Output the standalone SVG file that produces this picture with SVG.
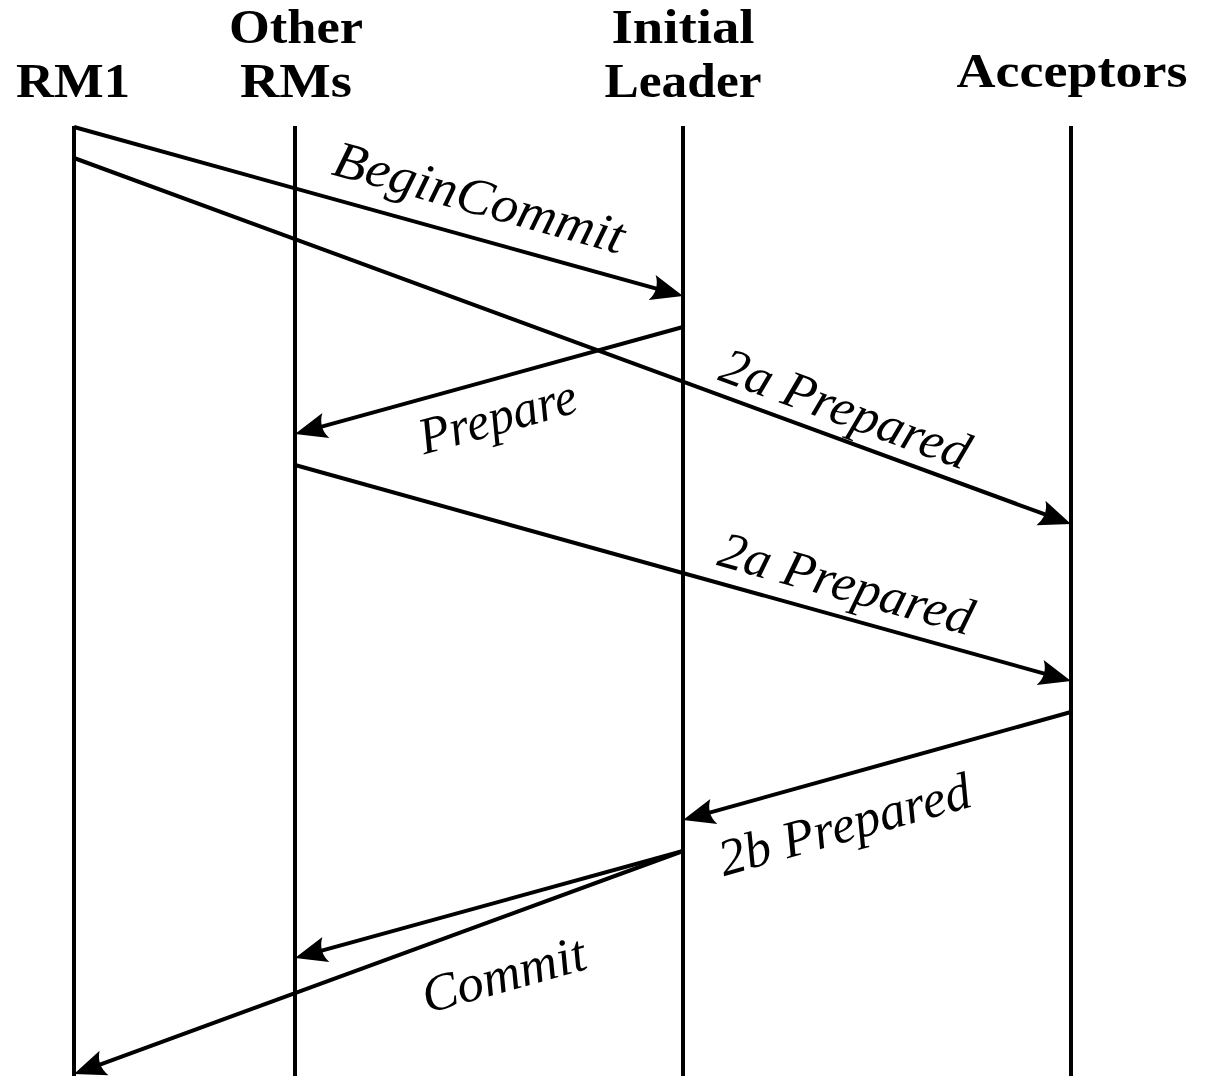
<svg xmlns="http://www.w3.org/2000/svg" width="1218" height="1076" viewBox="0 0 1218 1076">
<style>
.hdr{font-family:"Liberation Serif","DejaVu Serif",serif;font-weight:bold;font-size:48px;fill:#000;text-anchor:middle}
.lbl{font-family:"Liberation Serif","DejaVu Serif",serif;font-style:italic;font-size:52px;fill:#000;text-anchor:middle}
.life{stroke:#000;stroke-width:4;fill:none}
.msg{stroke:#000;stroke-width:4;fill:none;marker-end:url(#ah)}
</style>
<defs>
<marker id="ah" markerUnits="userSpaceOnUse" markerWidth="40" markerHeight="30" refX="24" refY="13" orient="auto" overflow="visible">
<path d="M32,13 L0,0 Q8,13 0,26 Z" fill="#000"/>
</marker>
</defs>
<rect width="1218" height="1076" fill="#fff"/>
<g id="rm1">
<text class="hdr" x="73" y="97" textLength="114" lengthAdjust="spacingAndGlyphs">RM1</text>
<line class="life" x1="74" y1="126" x2="74" y2="1076"/>
</g>
<g id="other-rms">
<text class="hdr" x="296" y="43" textLength="134" lengthAdjust="spacingAndGlyphs">Other</text>
<text class="hdr" x="296" y="97" textLength="112" lengthAdjust="spacingAndGlyphs">RMs</text>
<line class="life" x1="295" y1="126" x2="295" y2="1076"/>
</g>
<g id="initial-leader">
<text class="hdr" x="683" y="43" textLength="143" lengthAdjust="spacingAndGlyphs">Initial</text>
<text class="hdr" x="683" y="97" textLength="157" lengthAdjust="spacingAndGlyphs">Leader</text>
<line class="life" x1="683" y1="126" x2="683" y2="1076"/>
</g>
<g id="acceptors">
<text class="hdr" x="1072" y="87" textLength="231" lengthAdjust="spacingAndGlyphs">Acceptors</text>
<line class="life" x1="1071" y1="126" x2="1071" y2="1076"/>
</g>
<g id="connectors">
<line class="msg" x1="74" y1="127" x2="675.3" y2="293.9"/>
<line class="msg" x1="74" y1="158" x2="1063.5" y2="521.2"/>
<line class="msg" x1="683" y1="327" x2="302.7" y2="431.9"/>
<line class="msg" x1="295" y1="465" x2="1063.3" y2="678.9"/>
<line class="msg" x1="1071" y1="712" x2="690.7" y2="817.9"/>
<line class="msg" x1="683" y1="851" x2="302.7" y2="955.9"/>
<line class="msg" x1="683" y1="851" x2="81.5" y2="1071.3"/>
</g>
<g id="labels">
<text class="lbl" transform="translate(479,199) rotate(15.5)" dy="0.3em" textLength="300" lengthAdjust="spacingAndGlyphs">BeginCommit</text>
<text class="lbl" transform="translate(845,410) rotate(20.2)" dy="0.3em" textLength="262" lengthAdjust="spacingAndGlyphs">2a Prepared</text>
<text class="lbl" transform="translate(498,418) rotate(-15.4)" dy="0.3em" textLength="162" lengthAdjust="spacingAndGlyphs">Prepare</text>
<text class="lbl" transform="translate(846,585) rotate(15.6)" dy="0.3em" textLength="262" lengthAdjust="spacingAndGlyphs">2a Prepared</text>
<text class="lbl" transform="translate(845,826) rotate(-15.7)" dy="0.3em" textLength="260" lengthAdjust="spacingAndGlyphs">2b Prepared</text>
<text class="lbl" transform="translate(504,976) rotate(-15.6)" dy="0.3em" textLength="168" lengthAdjust="spacingAndGlyphs">Commit</text>
</g>
</svg>
